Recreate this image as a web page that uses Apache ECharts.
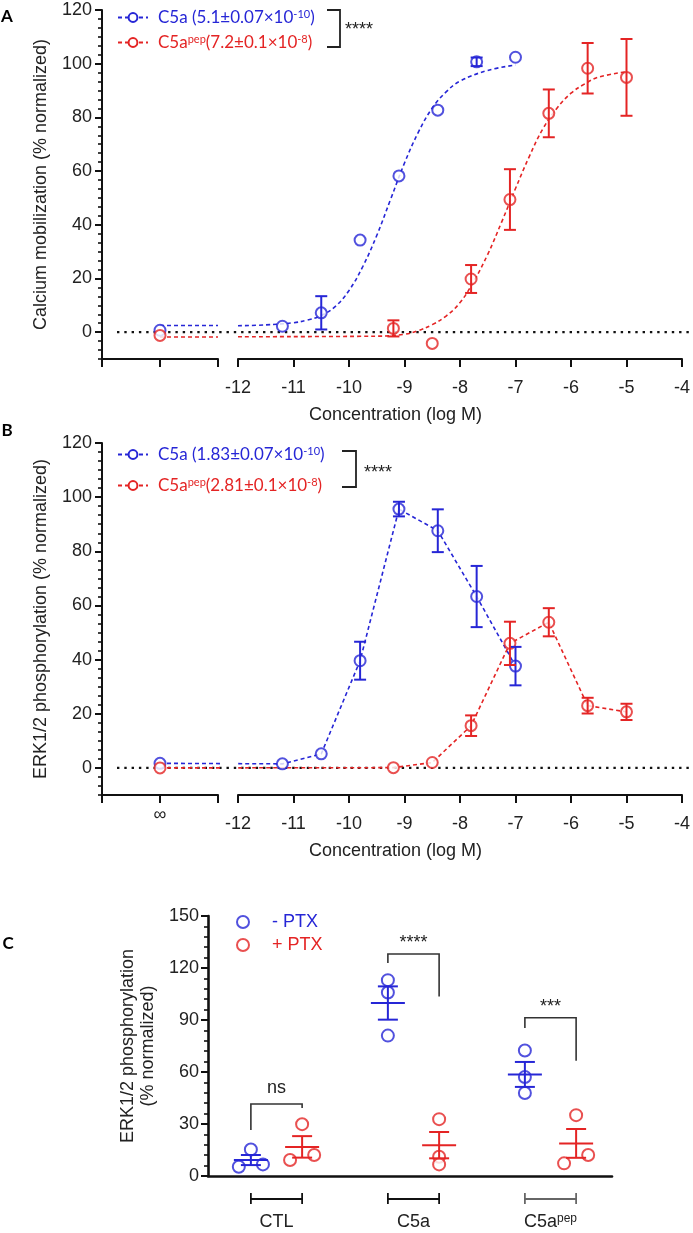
<!DOCTYPE html>
<html><head><meta charset="utf-8">
<script src="https://cdn.jsdelivr.net/npm/echarts@6/dist/echarts.min.js"></script>
<style>html,body{margin:0;padding:0;background:#fff}#c{width:693px;height:1233px}</style>
</head><body><div id="c"></div>
<script>
// ================= DATA =================
const yTicksAB = [0, 20, 40, 60, 80, 100, 120];
const yTicksC = [0, 30, 60, 90, 120, 150];
const xTicksLog = [-12, -11, -10, -9, -8, -7, -6, -5, -4];

// Panel A – calcium mobilization
const aC5aX = [-11.2, -10.5, -9.8, -9.1, -8.4, -7.7, -7.0];
const aC5aY = [2.2, 7.2, 34.3, 58.2, 82.7, 100.7, 102.4];
const aC5aErr = [null, 6.2, null, null, null, 1.6, null];
const aC5aZero = 0.7;
const aPepX = [-9.2, -8.5, -7.8, -7.1, -6.4, -5.7, -5.0];
const aPepY = [1.4, -4.2, 19.8, 49.4, 81.5, 98.3, 94.9];
const aPepErr = [3.0, null, 5.2, 11.3, 8.9, 9.4, 14.3];
const aPepZero = -1.2;
// fitted curves
const aC5aFitX = [-12, -11.5, -11, -10.75, -10.5, -10.25, -10, -9.75, -9.5, -9.25, -9, -8.75, -8.5, -8.25, -8, -7.5, -7];
const aC5aFitY = [2.4, 2.7, 3.5, 4.5, 6.2, 9.5, 15.5, 24.5, 36, 49.5, 63, 74.5, 83.5, 89.5, 93.5, 97.5, 99.5];
const aC5aFitZero = 2.5;
const aPepFitX = [-12, -9.5, -9, -8.75, -8.5, -8.25, -8, -7.75, -7.5, -7.25, -7, -6.75, -6.5, -6.25, -6, -5.75, -5.5, -5];
const aPepFitY = [-1.7, -1.5, -0.8, 0.6, 2.8, 6, 11, 19, 29, 41, 53.5, 65.5, 76, 83.5, 89, 92.5, 95, 97];
const aPepFitZero = -1.8;

// Panel B – ERK1/2 phosphorylation
const bC5aX = [-11.2, -10.5, -9.8, -9.1, -8.4, -7.7, -7.0];
const bC5aY = [1.5, 5.2, 39.6, 95.6, 87.6, 63.3, 37.6];
const bC5aErr = [null, null, 7.0, 2.7, 7.9, 11.3, 7.1];
const bC5aZero = 1.7;
const bPepX = [-9.2, -8.5, -7.8, -7.1, -6.4, -5.7, -5.0];
const bPepY = [0.1, 2.0, 15.6, 46.0, 53.8, 23.0, 20.7];
const bPepErr = [null, null, 3.8, 8.0, 5.2, 2.9, 3.0];
const bPepZero = 0;

// Panel C – PTX
const cCategories = ['CTL', 'C5a', 'C5a'];
const cCategorySup = ['', '', 'pep'];
const cMinusPTX = [[5.3, 15.3, 6.7], [113, 105.9, 81], [72.4, 57.1, 47.9]];
const cPlusPTX = [[9.2, 29.9, 12.1], [32.8, 11.1, 6.7], [7.3, 35.1, 12.1]];
const cMinusMean = [9.2, 99.8, 58.6];
const cMinusSem = [2.9, 9.6, 7.2];
const cPlusMean = [16.8, 17.8, 18.8];
const cPlusSem = [6.2, 7.6, 8.3];
const cSigLabels = ['ns', '****', '***'];
const cSigTop = [41.5, 128.1, 91.3];
const cSigLeftEnd = [26.5, 122.9, 85.4];
const cSigRightEnd = [39.2, 103.5, 66.5];
const cSigTextY = [50.5, 134.5, 97.5];

// ================= LAYOUT / STYLE =================
const BLUE = '#2626d6', RED = '#e42424', INK = '#111', TXT = '#222';
const FONT = 'Liberation Sans', LEGFONT = 'Lato';
const XL = {left: 102, right: 218};      // zero-dose segment
const XR = {left: 238, right: 689};      // log segment
const ZL = 117;                           // start of dotted zero line
const PA = {top: 10, bottom: 359};
const PB = {top: 443, bottom: 795};
const PC = {left: 208, right: 612, top: 916, bottom: 1176};
const C_UNIT = 137, C_PAIR = 0.187, C_JIT = 0.088;
const jitterMinus = [[-1, 0, 1], [0, 0, 0], [0, 0, 0]];
const jitterPlus = [[-1, 0, 1], [0, 0, 0], [-1, 0, 1]];

const rightPx = (XR.right - XR.left) / 8;
const leftPx = (XL.right - XL.left) / 2;
const zeroPx = XL.left + leftPx;
const zeroInRight = -12 + (zeroPx - XR.left) / rightPx;
const rightInLeft = x => (XR.left + (x + 12) * rightPx - XL.left) / leftPx - 1;
const zip = (xs, ys) => xs.map((x, i) => [x, ys[i]]);
const zip3 = (xs, ys, es) => xs.map((x, i) => [x, ys[i], es[i]]).filter(d => d[2] != null);
const minorOf = (ticks, n, lo) => {
  const out = [], step = (ticks[1] - ticks[0]) / n;
  for (let v = lo; v <= ticks[ticks.length - 1] + 1e-9; v += step) out.push(+v.toFixed(4));
  return out.filter(v => ticks.indexOf(v) < 0);
};

function errRender(capHalf, width) {
  return function (params, api) {
    const x = api.value(0), y = api.value(1), e = api.value(2);
    const t = api.coord([x, y + e]), b = api.coord([x, y - e]);
    const st = {stroke: api.visual('color'), lineWidth: width};
    return {type: 'group', children: [
      {type: 'line', shape: {x1: t[0], y1: t[1], x2: b[0], y2: b[1]}, style: st},
      {type: 'line', shape: {x1: t[0] - capHalf, y1: t[1], x2: t[0] + capHalf, y2: t[1]}, style: st},
      {type: 'line', shape: {x1: b[0] - capHalf, y1: b[1], x2: b[0] + capHalf, y2: b[1]}, style: st}
    ]};
  };
}
function meanRender(params, api) {
  const x = api.value(0), m = api.value(1), s = api.value(2);
  const c = api.coord([x, m]), t = api.coord([x, m + s]), b = api.coord([x, m - s]);
  const st = {stroke: api.visual('color'), lineWidth: 2};
  return {type: 'group', children: [
    {type: 'line', shape: {x1: c[0] - 17, y1: c[1], x2: c[0] + 17, y2: c[1]}, style: st},
    {type: 'line', shape: {x1: t[0], y1: t[1], x2: b[0], y2: b[1]}, style: st},
    {type: 'line', shape: {x1: t[0] - 10, y1: t[1], x2: t[0] + 10, y2: t[1]}, style: st},
    {type: 'line', shape: {x1: b[0] - 10, y1: b[1], x2: b[0] + 10, y2: b[1]}, style: st}
  ]};
}

const grids = [];
const xAxes = [];
const yAxes = [];
const series = [];

function yAxisPair(gi, name, nameGap) {
  const base = {gridIndex: gi, type: 'value', position: 'left', min: -10, max: 120, splitLine: {show: false}};
  yAxes.push(Object.assign({}, base, {
    name: name, nameLocation: 'middle', nameGap: nameGap,
    nameTextStyle: {fontFamily: FONT, fontSize: 18, color: TXT},
    axisLine: {show: true, onZero: false, lineStyle: {color: INK, width: 2}},
    axisTick: {show: true, length: 7, lineStyle: {color: INK, width: 2}, customValues: yTicksAB},
    axisLabel: {fontFamily: FONT, fontSize: 18, color: TXT, margin: 10, customValues: yTicksAB}
  }));
  yAxes.push(Object.assign({}, base, {
    axisLine: {show: false, onZero: false},
    axisTick: {show: true, length: 4, lineStyle: {color: INK, width: 1.6}, customValues: minorOf(yTicksAB, 6, -10)},
    axisLabel: {show: false}
  }));
}

function buildPanel(P, opts) {
  const g0 = grids.length;
  const h = P.bottom - P.top;
  grids.push({left: XL.left, top: P.top, width: XL.right - XL.left, height: h});
  grids.push({left: XR.left, top: P.top, width: XR.right - XR.left, height: h});
  grids.push({left: ZL, top: P.top, width: XR.right - ZL, height: h});
  const x0 = xAxes.length;
  const axLine = {show: true, onZero: false, lineStyle: {color: INK, width: 2}};
  const axTick = {show: true, length: 8, lineStyle: {color: INK, width: 2}};
  xAxes.push({gridIndex: g0, type: 'value', position: 'bottom', min: -1, max: 1, interval: 1, splitLine: {show: false},
    axisLine: axLine, axisTick: axTick,
    axisLabel: {show: opts.zeroLabel, fontFamily: FONT, fontSize: 18, color: TXT, margin: 11,
      formatter: v => (v === 0 ? '∞' : '')}});
  xAxes.push({gridIndex: g0 + 1, type: 'value', position: 'bottom', min: -12, max: -4, interval: 1, splitLine: {show: false},
    axisLine: axLine, axisTick: axTick,
    axisLabel: {fontFamily: FONT, fontSize: 18, color: TXT, margin: 20, showMinLabel: true, showMaxLabel: true}});
  xAxes.push({gridIndex: g0 + 2, type: 'value', min: 0, max: 1, show: false});
  const y0 = yAxes.length;
  yAxisPair(g0, opts.yName, opts.nameGap);
  yAxes.push({gridIndex: g0 + 1, type: 'value', min: -10, max: 120, show: false});
  yAxes.push({gridIndex: g0 + 2, type: 'value', min: -10, max: 120, show: false});
  return {xL: x0, xR: x0 + 1, xZ: x0 + 2, yL: y0, yR: y0 + 2, yZ: y0 + 3};
}

const dashed = (c) => ({color: c, width: 1.6, type: [4, 3]});
const pointStyle = (c) => ({color: c, borderWidth: 1.8});

function addZeroLine(ax) {
  series.push({type: 'line', name: 'zero', xAxisIndex: ax.xZ, yAxisIndex: ax.yZ, data: [[0, 0], [1, 0]],
    symbol: 'none', lineStyle: {color: INK, width: 2.4, type: [2.4, 4.9]}, z: 1, silent: true});
}
function addPoints(ax, name, X, Y, E, zero, color) {
  series.push({type: 'scatter', name: name + 'L', xAxisIndex: ax.xL, yAxisIndex: ax.yL, data: [[0, zero]],
    symbol: 'emptyCircle', symbolSize: 11, itemStyle: pointStyle(color), z: 4});
  series.push({type: 'scatter', name: name + 'R', xAxisIndex: ax.xR, yAxisIndex: ax.yR, data: zip(X, Y),
    symbol: 'emptyCircle', symbolSize: 11, itemStyle: pointStyle(color), z: 4});
  series.push({type: 'custom', name: name + 'E', xAxisIndex: ax.xR, yAxisIndex: ax.yR, data: zip3(X, Y, E),
    renderItem: errRender(6, 2), itemStyle: {color: color}, z: 5});
}

// ---- Panel A ----
const axA = buildPanel(PA, {yName: 'Calcium mobilization (% normalized)', nameGap: 52, zeroLabel: false});
addZeroLine(axA);
[[aC5aFitX, aC5aFitY, aC5aFitZero, BLUE, 'aC5aFit'], [aPepFitX, aPepFitY, aPepFitZero, RED, 'aPepFit']].forEach(f => {
  series.push({type: 'line', name: f[4] + 'L', xAxisIndex: axA.xL, yAxisIndex: axA.yL,
    data: [[0, f[2]], [1, f[2]]], symbol: 'none', lineStyle: dashed(f[3]), z: 3});
  series.push({type: 'line', name: f[4], xAxisIndex: axA.xR, yAxisIndex: axA.yR, data: zip(f[0], f[1]),
    smooth: 0.4, showSymbol: false, symbol: 'emptyCircle', symbolSize: 10,
    itemStyle: {color: f[3], borderWidth: 1.5}, lineStyle: dashed(f[3]), z: 3});
});
addPoints(axA, 'aC5a', aC5aX, aC5aY, aC5aErr, aC5aZero, BLUE);
addPoints(axA, 'aPep', aPepX, aPepY, aPepErr, aPepZero, RED);

// ---- Panel B ----
const axB = buildPanel(PB, {yName: 'ERK1/2 phosphorylation (% normalized)', nameGap: 52, zeroLabel: true});
addZeroLine(axB);
[[bC5aX, bC5aY, bC5aZero, BLUE, 'bC5a'], [bPepX, bPepY, bPepZero, RED, 'bPep']].forEach(f => {
  series.push({type: 'line', name: f[4] + 'LL', xAxisIndex: axB.xL, yAxisIndex: axB.yL,
    data: [[0, f[2]], [rightInLeft(f[0][0]), f[1][0]]], symbol: 'none', lineStyle: dashed(f[3]), z: 3});
  series.push({type: 'line', name: f[4] + 'Line', xAxisIndex: axB.xR, yAxisIndex: axB.yR,
    data: [[zeroInRight, f[2]]].concat(zip(f[0], f[1])), showSymbol: false, symbol: 'emptyCircle', symbolSize: 10,
    itemStyle: {color: f[3], borderWidth: 1.5}, lineStyle: dashed(f[3]), z: 3});
});
addPoints(axB, 'bC5a', bC5aX, bC5aY, bC5aErr, bC5aZero, BLUE);
addPoints(axB, 'bPep', bPepX, bPepY, bPepErr, bPepZero, RED);

// ---- Panel C ----
const gC = grids.length;
grids.push({left: PC.left, top: PC.top, width: PC.right - PC.left, height: PC.bottom - PC.top});
const cMax = (PC.right - PC.left) / C_UNIT;
const centers = cCategories.map((_, i) => i + 0.5);
const xC = xAxes.length;
xAxes.push({gridIndex: gC, type: 'value', min: 0, max: cMax, splitLine: {show: false},
  axisLine: {show: true, onZero: false, lineStyle: {color: INK, width: 2.6}},
  axisTick: {show: false},
  axisLabel: {customValues: centers, margin: 37, fontFamily: FONT, fontSize: 18, color: TXT,
    formatter: v => { const i = Math.round(v - 0.5); return '{n|' + cCategories[i] + '}' + (cCategorySup[i] ? '{s|' + cCategorySup[i] + '}' : ''); },
    rich: {n: {fontFamily: FONT, fontSize: 18, color: TXT}, s: {fontFamily: FONT, fontSize: 12, color: TXT, verticalAlign: 'top', lineHeight: 12}}}});
const yC = yAxes.length;
yAxes.push({gridIndex: gC, type: 'value', min: 0, max: 150, interval: 30, splitLine: {show: false},
  name: 'ERK1/2 phosphorylation\n(% normalized)', nameLocation: 'middle', nameGap: 48,
  nameTextStyle: {fontFamily: FONT, fontSize: 18, color: TXT, lineHeight: 20, align: 'center'},
  axisLine: {show: true, lineStyle: {color: INK, width: 2.6}},
  axisTick: {show: true, length: 7, lineStyle: {color: INK, width: 2}},
  minorTick: {show: true, splitNumber: 5, length: 4, lineStyle: {color: INK, width: 1.6}},
  axisLabel: {fontFamily: FONT, fontSize: 18, color: TXT, margin: 9}});

const cPts = (vals, side, jit) => {
  const out = [];
  vals.forEach((g, i) => g.forEach((v, k) => out.push([centers[i] + side * C_PAIR + jit[i][k] * C_JIT, v])));
  return out;
};
series.push({type: 'scatter', name: 'cMinus', xAxisIndex: xC, yAxisIndex: yC, data: cPts(cMinusPTX, -1, jitterMinus),
  symbol: 'emptyCircle', symbolSize: 12, itemStyle: {color: BLUE, borderWidth: 1.8}, z: 3});
series.push({type: 'scatter', name: 'cPlus', xAxisIndex: xC, yAxisIndex: yC, data: cPts(cPlusPTX, 1, jitterPlus),
  symbol: 'emptyCircle', symbolSize: 12, itemStyle: {color: RED, borderWidth: 1.8}, z: 3});
series.push({type: 'custom', name: 'cMinusMean', xAxisIndex: xC, yAxisIndex: yC, renderItem: meanRender,
  itemStyle: {color: BLUE}, data: centers.map((c, i) => [c - C_PAIR, cMinusMean[i], cMinusSem[i]]), z: 5});
series.push({type: 'custom', name: 'cPlusMean', xAxisIndex: xC, yAxisIndex: yC, renderItem: meanRender,
  itemStyle: {color: RED}, data: centers.map((c, i) => [c + C_PAIR, cPlusMean[i], cPlusSem[i]]), z: 5});
// significance brackets
series.push({type: 'custom', name: 'cSig', xAxisIndex: xC, yAxisIndex: yC, silent: true, z: 6,
  data: centers.map((c, i) => [c - C_PAIR, c + C_PAIR, cSigTop[i], cSigLeftEnd[i], cSigRightEnd[i], cSigTextY[i], i]),
  renderItem: (p, api) => {
    const l = api.coord([api.value(0), api.value(2)]), r = api.coord([api.value(1), api.value(2)]);
    const le = api.coord([api.value(0), api.value(3)]), re = api.coord([api.value(1), api.value(4)]);
    const tp = api.coord([(api.value(0) + api.value(1)) / 2, api.value(5)]);
    return {type: 'group', children: [
      {type: 'polyline', shape: {points: [[le[0], le[1]], [l[0], l[1]], [r[0], r[1]], [re[0], re[1]]]},
        style: {stroke: '#333', lineWidth: 1.6, fill: null}},
      {type: 'text', x: tp[0], y: tp[1], style: {text: cSigLabels[api.value(6)], fontFamily: FONT, fontSize: 18,
        fill: '#222', align: 'center', verticalAlign: 'middle'}}
    ]};
  }});
// group brackets below the axis
series.push({type: 'custom', name: 'cGroups', xAxisIndex: xC, yAxisIndex: yC, silent: true, clip: false, z: 6,
  data: centers.map((c, i) => [c - C_PAIR, c + C_PAIR, i]),
  renderItem: (p, api) => {
    const a = api.coord([api.value(0), 0]), b = api.coord([api.value(1), 0]);
    const y = a[1] + 23;
    const col = api.value(2) === 2 ? '#666' : '#111';
    const st = {stroke: col, lineWidth: 1.8};
    return {type: 'group', children: [
      {type: 'line', shape: {x1: a[0], y1: y, x2: b[0], y2: y}, style: st},
      {type: 'line', shape: {x1: a[0], y1: y - 6, x2: a[0], y2: y + 5}, style: st},
      {type: 'line', shape: {x1: b[0], y1: y - 6, x2: b[0], y2: y + 5}, style: st}
    ]};
  }});

// ---- Legends ----
const RICH = {
  b: {color: BLUE, fontFamily: LEGFONT, fontSize: 17, padding: [0, 0, 0, 5]},
  bt: {color: BLUE, fontFamily: LEGFONT, fontSize: 17},
  bs: {color: BLUE, fontFamily: LEGFONT, fontSize: 11, verticalAlign: 'top', lineHeight: 11},
  r: {color: RED, fontFamily: LEGFONT, fontSize: 17, padding: [0, 0, 0, 5]},
  rt: {color: RED, fontFamily: LEGFONT, fontSize: 17},
  rs: {color: RED, fontFamily: LEGFONT, fontSize: 11, verticalAlign: 'top', lineHeight: 11},
  pm: {color: BLUE, fontFamily: FONT, fontSize: 18, padding: [0, 0, 0, 18]},
  pp: {color: RED, fontFamily: FONT, fontSize: 18, padding: [0, 0, 0, 18]}
};
const LEG = {
  aC5aFit: '{b|C5a (5.1±0.07×10}{bs|-10}{bt|)}',
  aPepFit: '{r|C5a}{rs|pep}{rt|(7.2±0.1×10}{rs|-8}{rt|)}',
  bC5aLine: '{b|C5a (1.83±0.07×10}{bs|-10}{bt|)}',
  bPepLine: '{r|C5a}{rs|pep}{rt|(2.81±0.1×10}{rs|-8}{rt|)}',
  cMinus: '{pm|- PTX}',
  cPlus: '{pp|+ PTX}'
};
const legBase = {orient: 'vertical', selectedMode: false, formatter: n => LEG[n], textStyle: {rich: RICH}};
const legends = [
  Object.assign({}, legBase, {left: 112, top: 4, itemWidth: 30, itemHeight: 11, itemGap: 8, data: ['aC5aFit', 'aPepFit']}),
  Object.assign({}, legBase, {left: 112, top: 441, itemWidth: 30, itemHeight: 11, itemGap: 14, data: ['bC5aLine', 'bPepLine']}),
  Object.assign({}, legBase, {left: 231, top: 908, itemWidth: 12, itemHeight: 12, itemGap: 5, data: ['cMinus', 'cPlus']})
];

// ---- Annotations ----
const bracket = (x1, x2, yt, yb) => ({type: 'polyline', shape: {points: [[x1, yt], [x2, yt], [x2, yb], [x1, yb]]},
  style: {stroke: '#222', lineWidth: 1.8, fill: null}});
const txt = (x, y, t, o) => ({type: 'text', x: x, y: y, style: Object.assign({text: t, fontFamily: FONT, fontSize: 18,
  fill: TXT, align: 'center', verticalAlign: 'middle'}, o || {})});
const graphic = [
  txt(7, 17, 'A', {fontFamily: 'Lato', fontWeight: 'bold', fontSize: 17, fill: '#000'}),
  txt(7, 431, 'B', {fontFamily: 'Lato', fontWeight: 'bold', fontSize: 17, fill: '#000'}),
  txt(8, 944, 'C', {fontFamily: 'Lato', fontWeight: 'bold', fontSize: 17, fill: '#000'}),
  bracket(327, 340, 10, 47), txt(345, 30, '****', {align: 'left'}),
  bracket(342, 356, 451, 487), txt(364, 473, '****', {align: 'left'}),
  txt((XL.left + XR.right) / 2, 415, 'Concentration (log M)'),
  txt((XL.left + XR.right) / 2, 851, 'Concentration (log M)')
];

const chart = echarts.init(document.getElementById('c'), null, {renderer: 'canvas'});
chart.setOption({
  animation: false,
  backgroundColor: '#fff',
  textStyle: {fontFamily: FONT},
  grid: grids, xAxis: xAxes, yAxis: yAxes, series: series, legend: legends, graphic: graphic
});
</script></body></html>
